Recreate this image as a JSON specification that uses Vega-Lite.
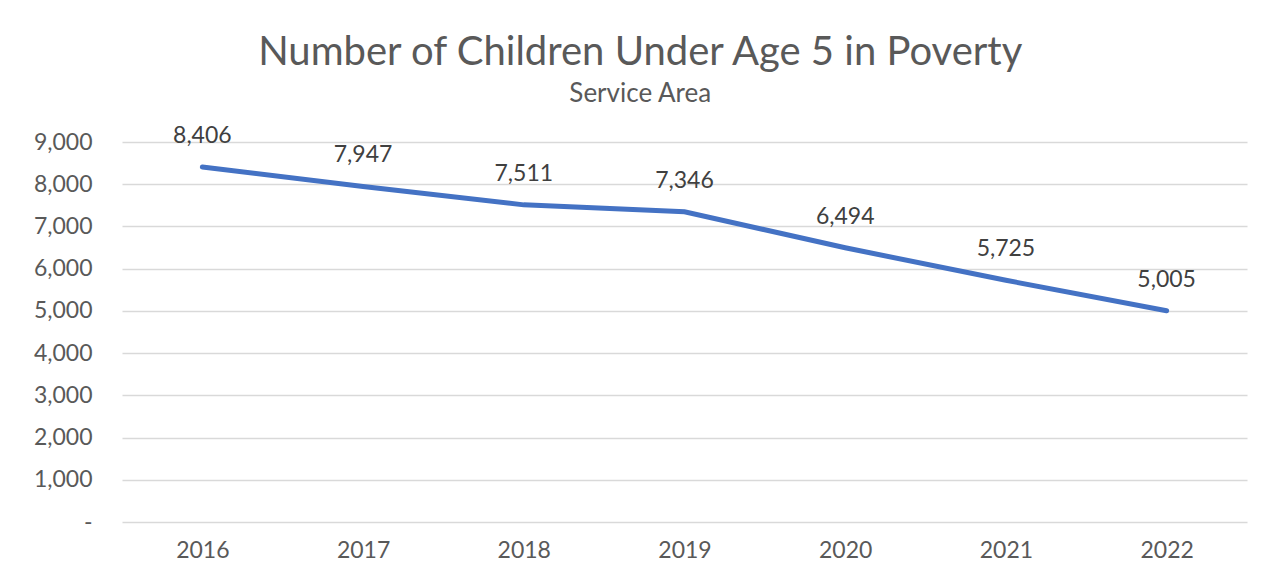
{
  "$schema": "https://vega.github.io/schema/vega-lite/v6.json",
  "autosize": "none",
  "width": 1125,
  "height": 380,
  "padding": {"left": 122, "top": 142, "right": 28, "bottom": 57},
  "background": "white",
  "config": {
    "font": "Lato",
    "view": {"stroke": null}
  },
  "title": {
    "text": "Number of Children Under Age 5 in Poverty",
    "subtitle": "Service Area",
    "anchor": "middle",
    "frame": "bounds",
    "fontSize": 40,
    "fontWeight": "normal",
    "color": "#595959",
    "subtitleFontSize": 26,
    "subtitleColor": "#595959",
    "subtitlePadding": 8,
    "offset": 18
  },
  "data": {
    "values": [
      {"year": "2016", "count": 8406},
      {"year": "2017", "count": 7947},
      {"year": "2018", "count": 7511},
      {"year": "2019", "count": 7346},
      {"year": "2020", "count": 6494},
      {"year": "2021", "count": 5725},
      {"year": "2022", "count": 5005}
    ]
  },
  "encoding": {
    "x": {
      "field": "year",
      "type": "ordinal",
      "scale": {"type": "point", "padding": 0.5},
      "axis": {
        "title": null,
        "labelAngle": 0,
        "labelFontSize": 23,
        "labelColor": "#595959",
        "labelPadding": 17,
        "domain": false,
        "ticks": false,
        "grid": false
      }
    },
    "y": {
      "field": "count",
      "type": "quantitative",
      "scale": {"domain": [0, 9000], "nice": false},
      "axis": {
        "title": null,
        "values": [0, 1000, 2000, 3000, 4000, 5000, 6000, 7000, 8000, 9000],
        "labelExpr": "datum.value == 0 ? '-' : format(datum.value, ',')",
        "labelFontSize": 23,
        "labelColor": "#595959",
        "labelPadding": 30,
        "domain": false,
        "ticks": false,
        "grid": true,
        "gridColor": "#d9d9d9",
        "gridWidth": 1.5
      }
    }
  },
  "layer": [
    {
      "mark": {"type": "line", "color": "#4472C4", "strokeWidth": 5, "strokeCap": "round"}
    },
    {
      "mark": {"type": "text", "fontSize": 23, "color": "#404040", "dy": -31, "baseline": "middle"},
      "encoding": {
        "text": {"field": "count", "type": "quantitative", "format": ","}
      }
    }
  ]
}
